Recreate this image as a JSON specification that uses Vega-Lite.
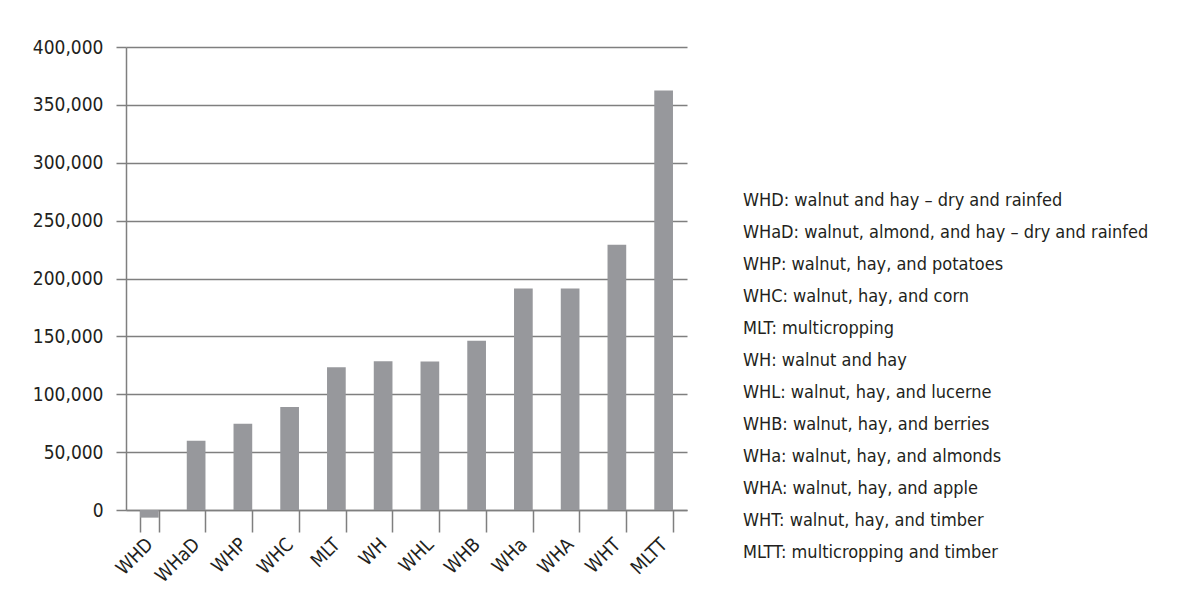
{
  "$schema": "https://vega.github.io/schema/vega-lite/v6.json",
  "width": 561,
  "height": 463,
  "autosize": {"type": "none"},
  "padding": {"left": 126, "top": 47, "right": 493, "bottom": 87},
  "background": "white",
  "config": {
    "view": {"stroke": null},
    "font": "DejaVu Sans Condensed, sans-serif"
  },
  "data": {
    "values": [
      {"code": "WHD", "value": -6600, "desc": "WHD: walnut and hay – dry and rainfed"},
      {"code": "WHaD", "value": 59800, "desc": "WHaD: walnut, almond, and hay – dry and rainfed"},
      {"code": "WHP", "value": 74500, "desc": "WHP: walnut, hay, and potatoes"},
      {"code": "WHC", "value": 88900, "desc": "WHC: walnut, hay, and corn"},
      {"code": "MLT", "value": 123300, "desc": "MLT: multicropping"},
      {"code": "WH", "value": 128500, "desc": "WH: walnut and hay"},
      {"code": "WHL", "value": 128300, "desc": "WHL: walnut, hay, and lucerne"},
      {"code": "WHB", "value": 146300, "desc": "WHB: walnut, hay, and berries"},
      {"code": "WHa", "value": 191300, "desc": "WHa: walnut, hay, and almonds"},
      {"code": "WHA", "value": 191300, "desc": "WHA: walnut, hay, and apple"},
      {"code": "WHT", "value": 229100, "desc": "WHT: walnut, hay, and timber"},
      {"code": "MLTT", "value": 362500, "desc": "MLTT: multicropping and timber"}
    ]
  },
  "mark": {"type": "bar"},
  "encoding": {
    "x": {
      "field": "code",
      "type": "nominal",
      "sort": null,
      "title": null,
      "scale": {"paddingInner": 0.6, "paddingOuter": 0.3},
      "axis": {
        "tickBand": "extent",
        "tickSize": 22,
        "tickColor": "#7f7f7f",
        "tickWidth": 1.5,
        "domainColor": "#7f7f7f",
        "domainWidth": 1.5,
        "labelAngle": -45,
        "labelAlign": "right",
        "labelBaseline": "middle",
        "labelFontSize": 19,
        "labelColor": "#231f20",
        "labelPadding": 9
      }
    },
    "y": {
      "field": "value",
      "type": "quantitative",
      "title": null,
      "scale": {"domain": [0, 400000], "nice": false},
      "axis": {
        "values": [0, 50000, 100000, 150000, 200000, 250000, 300000, 350000, 400000],
        "format": ",.0f",
        "grid": true,
        "gridColor": "#7f7f7f",
        "gridWidth": 1.5,
        "tickColor": "#7f7f7f",
        "tickWidth": 1.5,
        "tickSize": 10,
        "domainColor": "#7f7f7f",
        "domainWidth": 1.5,
        "labelFontSize": 19,
        "labelColor": "#231f20",
        "labelPadding": 13
      }
    },
    "color": {
      "field": "desc",
      "type": "nominal",
      "title": null,
      "scale": {
        "domain": [
          "WHD: walnut and hay – dry and rainfed",
          "WHaD: walnut, almond, and hay – dry and rainfed",
          "WHP: walnut, hay, and potatoes",
          "WHC: walnut, hay, and corn",
          "MLT: multicropping",
          "WH: walnut and hay",
          "WHL: walnut, hay, and lucerne",
          "WHB: walnut, hay, and berries",
          "WHa: walnut, hay, and almonds",
          "WHA: walnut, hay, and apple",
          "WHT: walnut, hay, and timber",
          "MLTT: multicropping and timber"
        ],
        "range": ["#97989c", "#97989c", "#97989c", "#97989c", "#97989c", "#97989c", "#97989c", "#97989c", "#97989c", "#97989c", "#97989c", "#97989c"]
      },
      "legend": {
        "orient": "none",
        "legendX": 599,
        "legendY": 145,
        "symbolSize": 0,
        "symbolStrokeWidth": 0,
        "symbolOpacity": 0,
        "labelOffset": 0,
        "labelFontSize": 18,
        "labelColor": "#231f20",
        "labelLimit": 1000,
        "rowPadding": 14,
        "padding": 0
      }
    }
  }
}
